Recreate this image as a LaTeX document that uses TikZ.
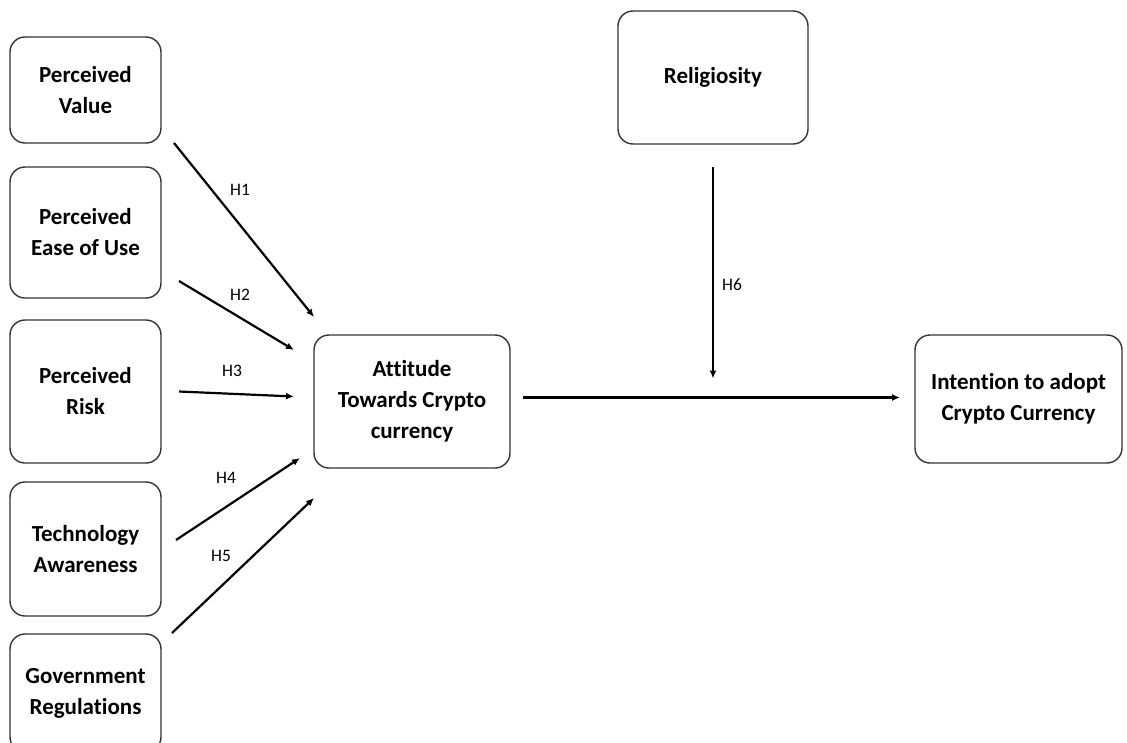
\documentclass[tikz,border=0pt]{standalone}
\usepackage{fontspec}
\setmainfont[Ligatures=NoCommon]{Carlito}
\usetikzlibrary{arrows.meta,positioning,calc}

\begin{document}
\begin{tikzpicture}[
    x=1pt, y=-1pt,
    box/.style={draw=black!80,line width=1.4pt,rounded corners=15pt,align=center,inner sep=0pt,outer sep=0pt,font=\fontsize{23}{31}\selectfont\bfseries},
    hyp/.style={font=\fontsize{17.5}{18}\selectfont,inner sep=0pt},
    arrow/.style={-{Latex[length=8pt,width=7pt]},line width=2.2pt}
  ]
    \clip (0,0) rectangle (1127,742);
    \node[box,minimum width=151pt,minimum height=106pt] (pv) at (85.5,90) {Perceived\\Value};
    \node[box,minimum width=151pt,minimum height=131pt,below=24pt of pv] (pe) {Perceived\\Ease of Use};
    \node[box,minimum width=151pt,minimum height=143pt,below=22pt of pe] (pr) {Perceived\\Risk};
    \node[box,minimum width=151pt,minimum height=134pt,below=19pt of pr] (ta) {Technology\\Awareness};
    \node[box,minimum width=151pt,minimum height=118pt,below=18pt of ta] (gr) {Government\\Regulations};
    \node[box,minimum width=196pt,minimum height=133pt] (att) at (412,401.5) {Attitude\\Towards Crypto\\currency};
    \node[box,minimum width=190pt,minimum height=133pt] (rel) at (713,77.5) {Religiosity};
    \node[box,minimum width=207pt,minimum height=128pt] (int) at (1018.5,399) {Intention to adopt\\Crypto Currency};
    \coordinate (mod) at (rel.south |- att.east);
    \draw[arrow] ([xshift=13pt]pv.south east) -- ([yshift=18pt]att.north west);
    \draw[arrow] ([xshift=18pt,yshift=17pt]pe.south east) -- ([xshift=-20pt,yshift=-15pt]att.north west);
    \draw[arrow] ([xshift=18pt]pr.east) -- ([xshift=-20pt,yshift=5pt]att.west);
    \draw[arrow] ([xshift=15pt,yshift=9pt]ta.east) -- ([xshift=-14pt,yshift=10pt]att.south west);
    \draw[arrow] ([xshift=11pt,yshift=1pt]gr.north east) -- ([yshift=-30pt]att.south west);
    \draw[arrow] ([xshift=13pt,yshift=4pt]att.east) -- ([xshift=-15pt,yshift=4pt]att.east -| int.west);
    \draw[arrow] ([yshift=-23pt]rel.south) -- ([yshift=23pt]mod);
    \node[hyp] (h1) at (240,190) {H1};
    \node[hyp] (h2) at (240,295) {H2};
    \node[hyp] (h3) at (232,371) {H3};
    \node[hyp] (h4) at (226,478) {H4};
    \node[hyp] (h5) at (221,556) {H5};
    \node[hyp] (h6) at (732,285) {H6};
  \end{tikzpicture}
\end{document}
